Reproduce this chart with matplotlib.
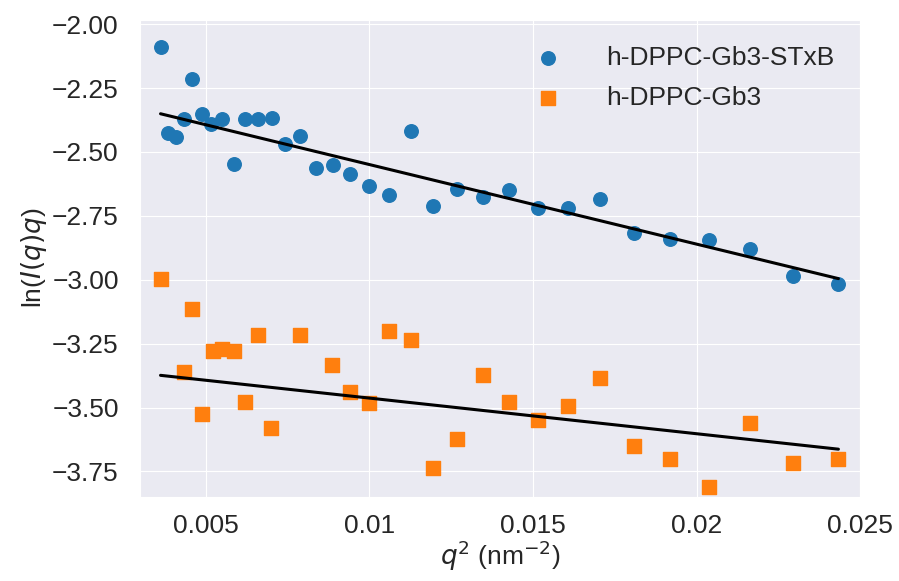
import numpy as np
import matplotlib
matplotlib.use("Agg")
import matplotlib.pyplot as plt
import seaborn as sns

# h-DPPC-Gb3-STxB
q2_stxb = [0.00362, 0.00386, 0.00410, 0.00433, 0.00459, 0.00490, 0.00517, 0.00551,
           0.00586, 0.00621, 0.00660, 0.00702, 0.00742, 0.00788, 0.00836, 0.00889,
           0.00942, 0.00999, 0.01060, 0.01126, 0.01194, 0.01267, 0.01346, 0.01427,
           0.01515, 0.01606, 0.01706, 0.01810, 0.01920, 0.02037, 0.02163, 0.02294,
           0.02433]
ln_stxb = [-2.091, -2.426, -2.443, -2.370, -2.214, -2.350, -2.389, -2.371,
           -2.547, -2.370, -2.370, -2.369, -2.468, -2.436, -2.563, -2.550,
           -2.585, -2.632, -2.667, -2.417, -2.710, -2.647, -2.676, -2.649,
           -2.721, -2.721, -2.686, -2.817, -2.840, -2.845, -2.879, -2.986,
           -3.016]

# h-DPPC-Gb3
q2_gb3 = [0.00362, 0.00433, 0.00459, 0.00490, 0.00521, 0.00551, 0.00586, 0.00621,
          0.00660, 0.00699, 0.00788, 0.00887, 0.00942, 0.00999, 0.01060, 0.01126,
          0.01195, 0.01267, 0.01346, 0.01427, 0.01515, 0.01606, 0.01706, 0.01810,
          0.01920, 0.02037, 0.02163, 0.02294, 0.02433]
ln_gb3 = [-2.999, -3.361, -3.116, -3.525, -3.277, -3.270, -3.277, -3.480,
          -3.218, -3.581, -3.218, -3.335, -3.438, -3.482, -3.201, -3.234,
          -3.738, -3.625, -3.374, -3.480, -3.548, -3.494, -3.383, -3.652,
          -3.702, -3.810, -3.560, -3.715, -3.702]

# linear fits (slope, intercept)
fit_stxb = (-31.14, -2.238)
fit_gb3 = (-13.95, -3.3235)

sns.set_style("darkgrid")
plt.rcParams["font.family"] = ["Liberation Sans", "DejaVu Sans"]

fig = plt.figure(figsize=(8.99, 5.81), dpi=100)
ax = fig.add_axes([0.156, 0.145, 0.801, 0.821])

ax.scatter(q2_stxb, ln_stxb, s=95, color="#1f77b4", marker="o", label="h-DPPC-Gb3-STxB", zorder=3)
ax.scatter(q2_gb3, ln_gb3, s=115, color="#ff7f0e", marker="s", label="h-DPPC-Gb3", zorder=3)

xs = np.array([min(q2_stxb), max(q2_stxb)])
ax.plot(xs, fit_stxb[0] * xs + fit_stxb[1], color="black", lw=2.2, zorder=4)
xg = np.array([min(q2_gb3), max(q2_gb3)])
ax.plot(xg, fit_gb3[0] * xg + fit_gb3[1], color="black", lw=2.2, zorder=4)

ax.set_xlim(0.003, 0.025)
ax.set_ylim(-3.849, -1.983)
ax.set_xticks([0.005, 0.01, 0.015, 0.02, 0.025])
ax.set_xticklabels(["0.005", "0.01", "0.015", "0.02", "0.025"])
ax.set_yticks([-2.0, -2.25, -2.5, -2.75, -3.0, -3.25, -3.5, -3.75])
ax.set_yticklabels(["\u22122.00", "\u22122.25", "\u22122.50", "\u22122.75",
                    "\u22123.00", "\u22123.25", "\u22123.50", "\u22123.75"])
ax.tick_params(axis="y", labelsize=19, pad=12)
ax.tick_params(axis="x", labelsize=19, pad=9)
ax.set_xlabel(r"$q^2$ (nm$^{-2}$)", fontsize=19, labelpad=0)
ax.set_ylabel(r"ln($I(q)q$)", fontsize=19, labelpad=2)

ax.legend(loc="upper right", fontsize=19, frameon=False, handletextpad=1.2,
          labelspacing=0.6, borderaxespad=0.6)

fig.savefig("out.png", dpi=100)
